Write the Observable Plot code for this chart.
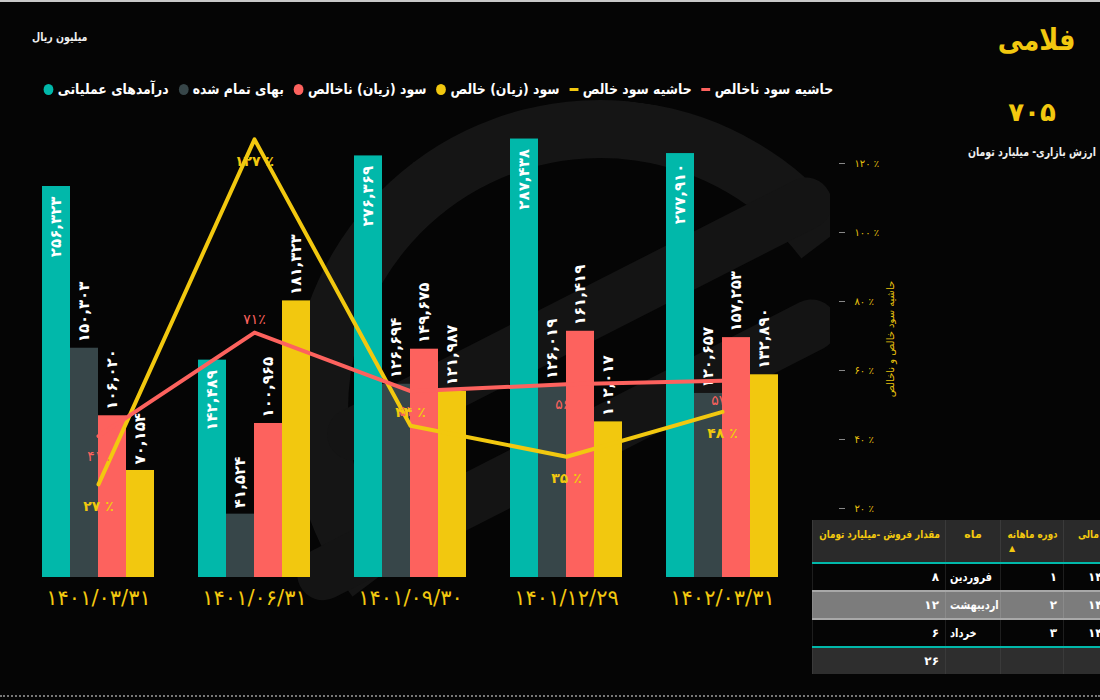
<!DOCTYPE html>
<html><head><meta charset="utf-8">
<script src="https://cdn.jsdelivr.net/npm/d3@7"></script>
<script src="https://cdn.jsdelivr.net/npm/@observablehq/plot@0.6"></script>
<style>
html,body{margin:0;padding:0;background:#050505;width:1100px;height:700px;overflow:hidden;font-family:"DejaVu Sans",sans-serif;}
#wrap{position:relative;width:1100px;height:700px;}
.abs{position:absolute;}
#deco{left:0;top:0;width:830px;height:690px;overflow:hidden}
#deco .ring{position:absolute;left:290px;top:100px;width:620px;height:620px;border-radius:50%;border:58px solid transparent;border-top-color:#151515;border-left-color:#151515;transform:rotate(8deg);box-sizing:border-box}
#deco .band{position:absolute;height:52px;border-radius:26px;background:#141414;transform:rotate(-27deg);transform-origin:left center}
#topline{left:0;top:0;width:1100px;height:2px;background:#c9c9c9}
#bottomline{left:0;top:695px;width:1100px;border-top:2px dotted #777}
#title{right:25px;top:22px;color:#F2C80F;font-weight:bold;font-size:30px;direction:rtl;transform:scaleX(0.85);transform-origin:right center}
#kpi{left:982px;width:100px;text-align:center;top:97px;color:#F2C80F;font-weight:bold;font-size:26px}
#kpiLabel{right:4px;top:145px;color:#eee;font-size:12px;font-weight:bold;direction:rtl;transform:scaleX(0.78);transform-origin:right center;white-space:nowrap}
#unit{left:32px;top:30px;color:#eee;font-size:11.5px;font-weight:bold;direction:rtl;transform:scaleX(0.82);transform-origin:left center;white-space:nowrap}
#legend{right:267px;top:81px;display:flex;direction:rtl;gap:11px;color:#fff;font-weight:bold;font-size:14px;align-items:center;white-space:nowrap;transform:scaleX(0.89);transform-origin:right center}
.item{display:flex;align-items:center;gap:5px}
.dot{width:11px;height:11px;border-radius:50%}
.dash{width:10px;height:3px}
#chart svg{position:absolute;left:0;top:0}
#tbl{left:812px;top:520px;width:313px}
table{border-collapse:collapse;direction:rtl;width:313px;table-layout:fixed;font-family:"DejaVu Sans",sans-serif}
th{background:#2a2a2a;color:#F2C80F;font-size:11px;font-weight:bold;height:34px;vertical-align:top;padding:8px 5px 0 5px;text-align:right;border-left:1px solid #3a3a3a;border-bottom:2px solid #01B8AA;position:relative;white-space:nowrap;overflow:hidden}
th span.c{display:inline-block;transform:scaleX(0.8);transform-origin:right center}
td{color:#fff;font-size:12px;font-weight:bold;height:26px;padding:0 6px;border-left:1px solid #1e1e1e;white-space:nowrap;overflow:hidden}
td.m{direction:ltr;text-align:left;padding-left:4px}
td span.c{display:inline-block;transform:scaleX(0.82);transform-origin:left center;direction:rtl}
tr.alt td{background:#7c7c7c;border-top:2px solid #a8a8a8;border-bottom:2px solid #a8a8a8;border-left:1px solid #8a8a8a}
tr.total td{background:#2e2e2e;border-top:2px solid #01B8AA;border-left:1px solid #3a3a3a}
.arrow{position:absolute;left:8px;top:24px;font-size:8px;color:#F2C80F}
</style></head>
<body><div id="wrap">
<div id="deco" class="abs"><div class="ring"></div>
<div class="band" style="left:330px;top:420px;width:560px"></div>
<div class="band" style="left:300px;top:560px;width:600px"></div></div>
<div id="topline" class="abs"></div>
<div id="unit" class="abs">میلیون ریال</div>
<div id="title" class="abs">فلامی</div>
<div id="kpi" class="abs"></div>
<div id="kpiLabel" class="abs">ارزش بازاری- میلیارد تومان</div>
<div id="legend" class="abs"></div>
<div id="chart" class="abs" style="left:0;top:0;width:900px;height:640px"></div>
<div id="tbl" class="abs"></div>
<div id="bottomline" class="abs"></div>
</div>
<script>
// ---- data ----
const periods = ["۱۴۰۱/۰۳/۳۱","۱۴۰۱/۰۶/۳۱","۱۴۰۱/۰۹/۳۰","۱۴۰۱/۱۲/۲۹","۱۴۰۲/۰۳/۳۱"];
const revenue = [256323,142489,276369,287438,277910];
const cost = [150303,41524,126694,126019,120657];
const grossProfit = [106020,100965,149675,161419,157253];
const netProfit = [70154,181323,121987,102017,132890];
const grossMargin = [0.41,0.71,0.54,0.56,0.57];
const netMargin = [0.27,1.27,0.44,0.35,0.48];
const pctTicks = [0.2,0.4,0.6,0.8,1.0,1.2];
const marketValue = 705;
const tableYear = ["۱۴۰۲","۱۴۰۲","۱۴۰۲"];
const tablePeriod = [1,2,3];
const tableMonth = ["فروردین","اردیبهشت","خرداد"];
const tableSales = [8,12,6];

const seriesKeys = ["revenue","cost","gross","net"];
const seriesNames = ["درآمدهای عملیاتی","بهای تمام شده","سود (زیان) ناخالص","سود (زیان) خالص"];
const colors = ["#01B8AA","#374649","#FD625E","#F2C80F"];

const fa = s => String(s).replace(/\d/g, d => "۰۱۲۳۴۵۶۷۸۹"[d]);
const fmt = v => fa(d3.format(",")(v));
const FONT = "DejaVu Sans, sans-serif";

document.getElementById("kpi").textContent = fa(marketValue);

// legend (right to left)
const legendItems = [
  {t:"حاشیه سود ناخالص", c:colors[2], dash:true},
  {t:"حاشیه سود خالص", c:colors[3], dash:true},
  {t:seriesNames[3], c:colors[3]},
  {t:seriesNames[2], c:colors[2]},
  {t:seriesNames[1], c:colors[1]},
  {t:seriesNames[0], c:colors[0]}
];
const lg = document.getElementById("legend");
legendItems.forEach(it => {
  const d = document.createElement("div"); d.className = "item";
  const s = document.createElement("span"); s.textContent = it.t;
  const m = document.createElement("span"); m.className = it.dash ? "dash" : "dot"; m.style.background = it.c;
  d.appendChild(s); d.appendChild(m); lg.appendChild(d);
});

// bars
const barRows = periods.flatMap((p,i) => [revenue,cost,grossProfit,netProfit].map((arr,k) => ({period:p, series:seriesKeys[k], value:arr[i]})));

const barChart = Plot.plot({
  width: 900, height: 640, marginTop: 100, marginBottom: 63, marginLeft: 0, marginRight: 80,
  style: {background: "transparent", fontFamily: FONT, overflow: "visible"},
  fx: {domain: periods, paddingInner: 0.284, paddingOuter: 0.262, label: null},
  x: {domain: seriesKeys, padding: 0, axis: null},
  y: {domain: [0, 312700], axis: null},
  color: {domain: seriesKeys, range: colors},
  marks: [
    Plot.axisFx({anchor: "bottom", tickSize: 0, tickPadding: 13, fontSize: 21, fill: "#F2C80F", label: null}),
    Plot.barY(barRows, {fx: "period", x: "series", y: "value", fill: "series"}),
    Plot.text(barRows.filter(d => d.series === "revenue"), {fx: "period", x: "series", y: "value", text: d => fmt(d.value), rotate: -90, textAnchor: "end", dy: 10, fill: "#fff", fontSize: 15, fontWeight: "bold"}),
    Plot.text(barRows.filter(d => d.series !== "revenue"), {fx: "period", x: "series", y: "value", text: d => fmt(d.value), rotate: -90, textAnchor: "start", dy: -6, fill: "#fff", fontSize: 15, fontWeight: "bold"})
  ]
});

// lines
const lineRows = periods.map((p,i) => ({period:p, gross:grossMargin[i], net:netMargin[i], i}));
const pct = v => fa(Math.round(v*100));
const lineChart = Plot.plot({
  width: 900, height: 640, marginTop: 100, marginBottom: 63, marginLeft: 0, marginRight: 62,
  style: {background: "transparent", fontFamily: FONT, overflow: "visible"},
  x: {type: "band", domain: periods, range: [0, 820], paddingInner: 0.284, paddingOuter: 0.262, axis: null},
  y: {domain: [0, 1.3826], axis: null},
  marks: [
    Plot.axisY({anchor: "right", ticks: pctTicks, tickFormat: d => pct(d) + " ٪", tickSize: 6, tickPadding: 10, stroke: "#8a8a8a", fill: "#E8C20E", fontSize: 10, label: "حاشیه سود خالص و ناخالص", labelAnchor: "center", labelOffset: 55, labelArrow: false}),
    Plot.line(lineRows, {x: "period", y: "net", stroke: colors[3], strokeWidth: 4}),
    Plot.line(lineRows, {x: "period", y: "gross", stroke: colors[2], strokeWidth: 4}),
    Plot.text(lineRows.filter(d => d.i !== 1), {x: "period", y: "gross", text: d => pct(d.gross) + "٪", fill: colors[2], dy: 20, fontSize: 14}),
    Plot.text(lineRows.filter(d => d.i === 1), {x: "period", y: "gross", text: d => pct(d.gross) + "٪", fill: colors[2], dy: -13, fontSize: 14}),
    Plot.text(lineRows.filter(d => d.i !== 2), {x: "period", y: "net", text: d => pct(d.net) + " ٪", fill: colors[3], dy: 22, fontSize: 14, fontWeight: 600}),
    Plot.text(lineRows.filter(d => d.i === 2), {x: "period", y: "net", text: d => pct(d.net) + " ٪", fill: colors[3], dy: -13, fontSize: 14, fontWeight: 600})
  ]
});
const ch = document.getElementById("chart");
ch.appendChild(barChart);
ch.appendChild(lineChart);

// table
let h = '<table><colgroup><col style="width:62px"><col style="width:63px"><col style="width:55px"><col style="width:133px"></colgroup>';
h += '<tr><th><span class="c">سال مالی</span></th><th><span class="c">دوره ماهانه</span><span class="arrow">▲</span></th><th style="text-align:center">ماه</th><th><span class="c">مقدار فروش -میلیارد تومان</span></th></tr>';
tableSales.forEach((v,i) => {
  h += `<tr class="${i===1?'alt':''}"><td style="text-align:left;padding-left:24px">${tableYear[i]}</td><td style="text-align:right">${fa(tablePeriod[i])}</td><td class="m"><span class="c">${tableMonth[i]}</span></td><td style="text-align:right">${fa(v)}</td></tr>`;
});
h += `<tr class="total"><td></td><td></td><td></td><td style="text-align:right">${fa(d3.sum(tableSales))}</td></tr></table>`;
document.getElementById("tbl").innerHTML = h;
</script>
</body></html>
